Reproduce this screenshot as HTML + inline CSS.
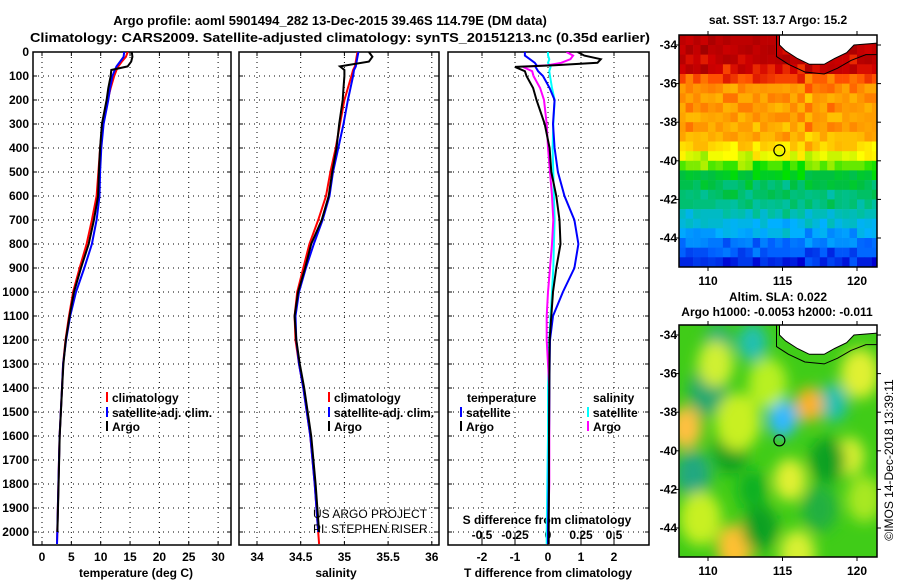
<!DOCTYPE html>
<html><head><meta charset="utf-8">
<style>
html,body{margin:0;padding:0;background:#fff;}
svg{display:block;font-family:"Liberation Sans",sans-serif;}
.b{font-weight:bold;font-size:12px;}
</style></head>
<body>
<svg id="s" width="900" height="580" viewBox="0 0 900 580">
<defs>
<clipPath id="c1"><rect x="33" y="52" width="198" height="493"/></clipPath>
<clipPath id="c2"><rect x="239" y="52" width="200" height="493"/></clipPath>
<clipPath id="c3"><rect x="448" y="52" width="201" height="493"/></clipPath>
<clipPath id="m1"><rect x="679" y="35" width="198" height="232"/></clipPath>
<clipPath id="m2"><rect x="679" y="325" width="198" height="232"/></clipPath>
<filter id="blur" x="-20%" y="-20%" width="140%" height="140%"><feGaussianBlur stdDeviation="7"/></filter>
</defs>
<text x="330" y="25" text-anchor="middle" font-size="13" font-weight="bold">Argo profile: aoml 5901494_282 13-Dec-2015 39.46S 114.79E (DM data)</text>
<text x="340" y="42" text-anchor="middle" font-size="13" font-weight="bold" textLength="620" lengthAdjust="spacingAndGlyphs">Climatology: CARS2009. Satellite-adjusted climatology: synTS_20151213.nc (0.35d earlier)</text>
<g id="g"></g>
</svg>
<script>
// ---------- data ----------
const depthTicks = [0,100,200,300,400,500,600,700,800,900,1000,1100,1200,1300,1400,1500,1600,1700,1800,1900,2000];
const tempTicks = [0,5,10,15,20,25,30];
const salTicks = [34,34.5,35,35.5,36];
const salTickLabels = ['34','34.5','35','35.5','36'];
const tdiffTicks = [-2,-1,0,1,2];
const sdiffTicks = [-0.5,-0.25,0,0.25,0.5];
const sdiffTickLabels = ['-0.5','-0.25','0','0.25','0.5'];

const profDepth = [0,20,40,60,75,100,150,200,300,400,500,600,700,800,900,1000,1100,1200,1300,1400,1500,1600,1800,2000,2050];
const tempClim = [14.6,14.3,13.6,13.0,12.7,12.3,11.7,11.2,10.3,9.9,9.6,9.3,8.5,7.6,6.4,5.3,4.6,4.0,3.6,3.4,3.2,3.0,2.8,2.6,2.55];
const tempSat  = [14.0,13.9,13.3,12.7,12.4,12.0,11.6,11.3,10.5,10.1,9.9,9.8,9.3,8.5,7.2,5.8,4.8,4.1,3.6,3.4,3.2,3.0,2.8,2.6,2.55];
const tempArgo = [15.3,15.4,15.2,14.6,11.8,11.7,11.3,11.0,10.2,9.9,9.7,9.55,8.85,7.95,6.65,5.45,4.7,4.05,3.65,3.42,3.22,3.02,2.82,2.62];
const salClim  = [35.15,35.14,35.13,35.12,35.1,35.08,35.04,35.0,34.95,34.9,34.84,34.79,34.7,34.6,34.53,34.46,34.43,34.44,34.48,34.53,34.57,34.61,34.66,34.70,34.71];
const salSat   = [35.16,35.15,35.14,35.13,35.11,35.10,35.07,35.04,34.99,34.93,34.87,34.83,34.75,34.65,34.56,34.48,34.44,34.45,34.48,34.53,34.57,34.61,34.66,34.70];
const salArgo  = [35.28,35.32,35.28,34.95,35.0,35.0,34.99,34.98,34.94,34.91,34.86,34.82,34.74,34.62,34.55,34.47,34.43,34.45,34.49,34.54,34.58,34.62,34.67,34.71];

const diffDepth = [0,15,30,45,55,62,80,100,150,200,300,400,500,600,700,800,900,1000,1100,1200,1400,1600,1800,2000,2050];
const tdiffArgo = [0.9,1.1,1.6,1.5,0.2,-1.0,-0.7,-0.65,-0.45,-0.35,-0.1,0.05,0.1,0.25,0.35,0.38,0.25,0.15,0.1,0.05,0.04,0.03,0.03,0.02,0.02];
const tdiffSat  = [-0.7,-0.7,-0.55,-0.4,-0.35,-0.38,-0.3,-0.15,0.05,0.2,0.15,0.2,0.3,0.5,0.8,0.92,0.8,0.45,0.15,0.06,0.04,0.03,0.02,0.0,0.0];
const sdiffArgo = [0.14,0.19,0.17,0.1,0.0,-0.19,-0.12,-0.11,-0.06,-0.03,-0.01,0.0,0.015,0.03,0.04,0.03,0.015,0.0,-0.01,-0.01,0.01,0.01,0.01,0.0,0.0];
const sdiffSat  = [0.0,0.0,0.01,0.0,0.01,0.02,0.01,0.015,0.03,0.05,0.04,0.035,0.04,0.045,0.05,0.045,0.04,0.03,0.02,0.01,0.0,0.0,-0.005,-0.01,-0.01];

// SST map: colour index per 0.5deg latitude row (-33.5 .. -45.5) and per-column offsets (108..121.5)
const sstRows = [0.95,0.95,0.94,0.92,0.86,0.8,0.79,0.79,0.78,0.78,0.76,0.72,0.66,0.58,0.5,0.46,0.44,0.42,0.38,0.34,0.31,0.25,0.21,0.16,0.12];
const sstCols = [0.0,0.02,-0.01,0.03,0.0,0.01,0.03,-0.02,-0.01,0.02,0.03,0.0,0.01,-0.02,0.03,0.0,0.02,0.04,-0.01,0.0,-0.03,0.02,0.0,0.03,0.01,-0.01,0.02];
const sstRowJitter = [0.0,-0.02,0.02,0.0,0.01,-0.01,0.02,-0.02,0.0,0.01,0.02,-0.01,0.03,0.0,-0.02,0.01,0.0,0.02,-0.01,0.01,0.0,-0.02,0.01,0.0,0.01];
// SLA map blobs: lon, lat, colour, radius(deg)
const slaBlobLon = [113,110.7,110,115,118.4,109,111.5,116.8,108.5,120.2,111.8,119.5,115.5,113.5,117.5,112,114,118,109.5,116,120.5,113,110.5];
const slaBlobLat = [-34.4,-34.5,-36.9,-38.3,-37.5,-41.2,-40,-37.6,-38.8,-36,-45,-40.3,-41.5,-44,-43,-38.5,-36.5,-40.5,-43.5,-45.3,-42.5,-42,-35.5];
const slaBlobCol = ['#20c0b0','#20b080','#20a870','#30b8ff','#20c0b0','#20a880','#10a020','#ffb020','#ffc040','#e0f030','#ffc030','#d8f030','#e0f030','#10a020','#20b040','#c8f020','#b8f020','#10a020','#c8f020','#d8f030','#a8e820','#10b020','#d0f030'];
const slaBlobR = [1.0,1.0,1.3,1.0,1.0,1.2,1.2,0.9,1.1,1.3,1.2,1.0,1.1,1.2,1.2,1.5,1.3,1.2,1.4,1.2,1.2,1.0,1.2];

// ---------- helpers ----------
const NS='http://www.w3.org/2000/svg';
const G=document.getElementById('g');
function mk(tag,at,parent){const e=document.createElementNS(NS,tag);for(const k in at)e.setAttribute(k,at[k]);(parent||G).appendChild(e);return e;}
function txt(x,y,s,anchor,cls,parent){const e=mk('text',{x:x,y:y,'text-anchor':anchor||'middle','class':cls||'b'},parent);e.textContent=s;return e;}
const yD=d=>52+d*0.24;
const xT=t=>42+t*5.87;
const xS=s=>257+(s-34)*87.4;
const xTd=t=>548+t*33;
const xSd=s=>548+s*132;
const TOP=52,BOT=545;

function gridPanel(x0,x1,vx,name){
  const p=mk('g',{});
  
  
  depthTicks.forEach(d=>{if(d>0)mk('line',{x1:x0,x2:x1,y1:yD(d),y2:yD(d),stroke:'#000','stroke-dasharray':'1,4','stroke-width':1},p);
    mk('line',{x1:x0,x2:x0+4,y1:yD(d),y2:yD(d),stroke:'#000'},p);mk('line',{x1:x1-4,x2:x1,y1:yD(d),y2:yD(d),stroke:'#000'},p);});
  vx.forEach(x=>{mk('line',{x1:x,x2:x,y1:TOP,y2:BOT,stroke:'#000','stroke-dasharray':'1,4'},p);
    mk('line',{x1:x,x2:x,y1:BOT-4,y2:BOT,stroke:'#000'},p);mk('line',{x1:x,x2:x,y1:TOP,y2:TOP+4,stroke:'#000'},p);});
  mk('rect',{x:x0,y:TOP,width:x1-x0,height:BOT-TOP,fill:'none',stroke:'#000','stroke-width':1.5},p);
  return p;
}
function line(xs,ds,fx,col,clip,name,w){
  const pts=xs.map((v,i)=>fx(v).toFixed(1)+','+yD(ds[i]).toFixed(1)).join(' ');
  const e=mk('polyline',{points:pts,fill:'none',stroke:col,'stroke-width':w||2,'clip-path':'url(#'+clip+')'});
  
  
}

// depth labels
const dl=mk('g',{});


depthTicks.forEach(d=>txt(29,yD(d)+4,String(d),'end','b',dl));

// panel 1 temperature
gridPanel(33,231,tempTicks.map(xT),'temperature-panel');
tempTicks.forEach(t=>txt(xT(t),561,String(t)));
txt(136,577,'temperature (deg C)');
line(tempClim,profDepth,xT,'#f00','c1','temp-climatology-line');
line(tempSat,profDepth,xT,'#00f','c1','temp-satellite-line');
line(tempArgo,profDepth,xT,'#000','c1','temp-argo-line');

// panel 2 salinity
gridPanel(239,439,salTicks.map(xS),'salinity-panel');
salTicks.forEach((s,i)=>txt(xS(s),561,salTickLabels[i]));
txt(336,577,'salinity');
line(salClim,profDepth,xS,'#f00','c2','sal-climatology-line');
line(salSat,profDepth,xS,'#00f','c2','sal-satellite-line');
line(salArgo,profDepth,xS,'#000','c2','sal-argo-line');

// panel 3 differences
gridPanel(448,649,tdiffTicks.map(xTd),'difference-panel');
tdiffTicks.forEach(t=>txt(xTd(t),561,String(t)));
txt(548,577,'T difference from climatology');
sdiffTicks.forEach((s,i)=>{mk('line',{x1:xSd(s),x2:xSd(s),y1:BOT-12,y2:BOT,stroke:'#000'});txt(xSd(s),539,sdiffTickLabels[i]);});
txt(547,524,'S difference from climatology');
line(sdiffSat,diffDepth,xSd,'#0ff','c3','sdiff-satellite-line');
line(sdiffArgo,diffDepth,xSd,'#f0f','c3','sdiff-argo-line');
line(tdiffSat,diffDepth,xTd,'#00f','c3','tdiff-satellite-line');
line(tdiffArgo,diffDepth,xTd,'#000','c3','tdiff-argo-line');

// legends
function legend(x,y,col,label,name){
  const g=mk('g',{});
  
  
  mk('line',{x1:x,x2:x,y1:y-10,y2:y,stroke:col,'stroke-width':2},g);
  txt(x+5,y,label,'start','b',g);
}
legend(107,402,'#f00','climatology','legend-climatology');
legend(107,417,'#00f','satellite-adj. clim.','legend-satellite-adj');
legend(107,431,'#000','Argo','legend-argo');
legend(329,402,'#f00','climatology','legend-climatology-2');
legend(329,417,'#00f','satellite-adj. clim.','legend-satellite-adj-2');
legend(329,431,'#000','Argo','legend-argo-2');
txt(467,402,'temperature','start');
legend(461,417,'#00f','satellite','legend-temp-satellite');
legend(461,431,'#000','Argo','legend-temp-argo');
txt(593,402,'salinity','start');
legend(588,417,'#0ff','satellite','legend-sal-satellite');
legend(588,431,'#f0f','Argo','legend-sal-argo');
const cr=mk('text',{x:313,y:518,'font-size':12,'text-anchor':'start'});cr.textContent='US ARGO PROJECT';
const cr2=mk('text',{x:313,y:533,'font-size':12,'text-anchor':'start'});cr2.textContent='PI: STEPHEN RISER';

// ---------- maps ----------
const mx=lon=>708+(lon-110)*14.9;
const myA=lat=>45+(-34-lat)*19.3;
const myB=lat=>335+(-34-lat)*19.3;
const palPos=[0,0.12,0.22,0.32,0.4,0.48,0.55,0.62,0.68,0.74,0.8,0.86,0.92,1];
const palCol=[[0,0,128],[0,0,208],[0,96,255],[0,176,255],[0,192,160],[0,192,64],[0,224,0],[176,240,0],[255,255,0],[255,192,0],[255,150,0],[255,80,0],[208,0,0],[160,0,0]];
function pal(v){v=Math.max(0,Math.min(1,v));let i=0;while(i<palPos.length-2&&v>palPos[i+1])i++;
  const f=(v-palPos[i])/(palPos[i+1]-palPos[i]);const a=palCol[i],b=palCol[i+1];
  return 'rgb('+a.map((c,k)=>Math.round(c+(b[k]-c)*f)).join(',')+')';}
const landPts=f=>[[114.8,-33.4],[114.8,-34.0],[115.2,-34.3],[116.0,-34.7],[116.8,-35.0],[117.8,-35.0],[118.5,-34.7],[119.3,-34.4],[119.8,-34.0],[121.4,-33.9],[121.4,-33.4]].map(p=>mx(p[0]).toFixed(1)+','+f(p[1]).toFixed(1)).join(' ');
const shelfPts=f=>[[114.6,-33.4],[114.6,-34.6],[115.4,-35.0],[116.5,-35.4],[117.8,-35.5],[118.7,-35.2],[119.6,-34.8],[120.6,-34.5],[121.4,-34.5]].map(p=>mx(p[0]).toFixed(1)+','+f(p[1]).toFixed(1)).join(' ');

function mapFrame(y0,fy,name){
  const g=mk('g',{});
  
  
  mk('rect',{x:679,y:y0,width:198,height:232,fill:'none',stroke:'#000','stroke-width':1.5},g);
  [110,115,120].forEach(l=>{mk('line',{x1:mx(l),x2:mx(l),y1:y0-4,y2:y0,stroke:'#000'},g);mk('line',{x1:mx(l),x2:mx(l),y1:y0+232,y2:y0+236,stroke:'#000'},g);txt(mx(l),y0+250,String(l),'middle','b',g);});
  [-34,-36,-38,-40,-42,-44].forEach(l=>{mk('line',{x1:675,x2:679,y1:fy(l),y2:fy(l),stroke:'#000'},g);mk('line',{x1:877,x2:881,y1:fy(l),y2:fy(l),stroke:'#000'},g);txt(677,fy(l)+4,String(l),'end','b',g);});
  mk('circle',{cx:mx(114.79),cy:fy(-39.46),r:5.5,fill:'none',stroke:'#000','stroke-width':1.2},g);
}
// SST map
const sst=mk('g',{'clip-path':'url(#m1)'});


sstRows.forEach((rv,i)=>{sstCols.forEach((cv,j)=>{
  const lat=-33.5-i*0.5, lon=108+j*0.5;
  const v=rv+cv*(1-2*((i+j)%2))+sstRowJitter[(i+j*3)%sstRowJitter.length];
  const c=mk('rect',{x:mx(lon).toFixed(1),y:myA(lat).toFixed(1),width:7.8,height:10,fill:pal(v)},sst);
  
  
});});
mk('polygon',{points:landPts(myA),fill:'#fff',stroke:'#000','stroke-width':1},sst);
mk('polyline',{points:shelfPts(myA),fill:'none',stroke:'#000','stroke-width':1},sst);
mapFrame(35,myA,'sst-map');
txt(778,24,'sat. SST: 13.7 Argo: 15.2');

// SLA map
const sla=mk('g',{'clip-path':'url(#m2)'});


mk('rect',{x:679,y:325,width:198,height:232,fill:'#40cc18'},sla);
const bg=mk('g',{filter:'url(#blur)'},sla);
slaBlobLon.forEach((lon,i)=>{
  const b=mk('ellipse',{cx:mx(lon),cy:myB(slaBlobLat[i]),rx:slaBlobR[i]*14.9,ry:slaBlobR[i]*19.3,fill:slaBlobCol[i]},bg);
  
  
});
mk('polygon',{points:landPts(myB),fill:'#fff',stroke:'#000','stroke-width':1},sla);
mk('polyline',{points:shelfPts(myB),fill:'none',stroke:'#000','stroke-width':1},sla);
mapFrame(325,myB,'sla-map');
txt(778,301,'Altim. SLA: 0.022');
txt(777,316,'Argo h1000: -0.0053 h2000: -0.011');
const im=mk('text',{x:0,y:0,'font-size':12,'text-anchor':'middle',transform:'translate(893,460) rotate(-90)'});
im.textContent='©IMOS 14-Dec-2018 13:39:11';


</script>
</body></html>
